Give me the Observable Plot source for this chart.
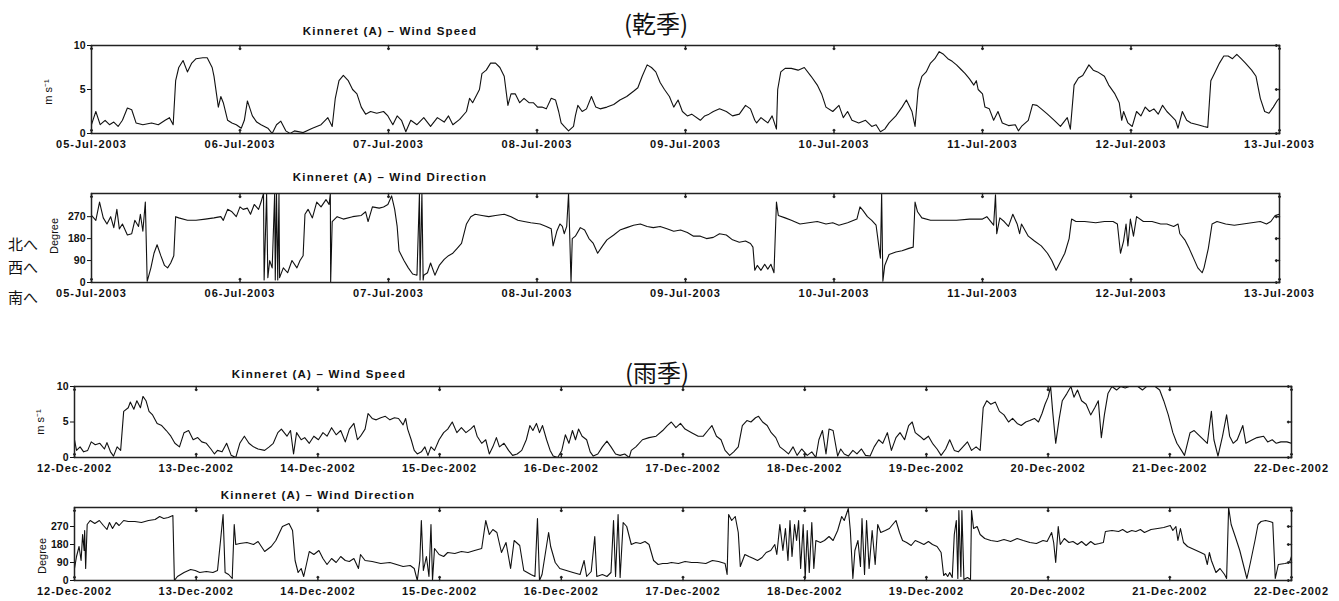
<!DOCTYPE html>
<html><head><meta charset="utf-8">
<script src="https://cdn.jsdelivr.net/npm/d3@7"></script>
<script src="https://cdn.jsdelivr.net/npm/@observablehq/plot@0.6"></script>
<style>
body{margin:0;background:#fff;}
#wrap{position:relative;width:1339px;height:601px;overflow:hidden;background:#fff;font-family:"Liberation Sans",Arial,sans-serif;color:#111;}
.abs{position:absolute;white-space:nowrap;line-height:1;}
.ttl{font-weight:bold;font-size:11.5px;letter-spacing:1.2px;transform:translate(-50%,-50%);}
.season{font-family:"Noto Sans CJK JP";font-size:24px;transform:translate(-50%,-50%);}
.ylab{font-size:11px;transform:translate(-50%,-50%) rotate(-90deg);}
.jp{font-family:"Noto Sans CJK JP";font-size:15px;transform:translateY(-50%);}
</style></head><body><div id="wrap"></div>
<script>
// ---------- data: [hours since start, value] ----------
const julStart = "2003-07-05T00:00:00Z";
const decStart = "2002-12-12T00:00:00Z";
const speedTicks = [0, 5, 10];
const dirTicks = [0, 90, 180, 270];

const julSpeed = [[0,1.0],[0.7,2.5],[1.4,1.0],[2.2,1.5],[2.9,1.0],[3.6,1.3],[4.3,0.8],[5.0,1.5],[5.8,2.9],[6.5,2.7],[7.2,1.2],[8.3,1.0],[9.7,1.2],[10.8,1.0],[11.9,1.5],[12.6,1.8],[13.2,1.0],[13.6,6.0],[14.1,7.5],[14.8,8.3],[15.5,7.0],[16.2,8.0],[16.9,8.5],[18.0,8.6],[18.7,8.6],[19.5,7.5],[19.8,6.5],[20.5,3.0],[20.9,4.2],[21.3,3.5],[22.0,1.5],[22.7,1.2],[23.4,1.0],[24.2,0.6],[24.7,1.5],[25.2,3.7],[26.0,2.0],[26.7,1.3],[27.4,1.0],[28.5,0.6],[29.2,0.0],[29.9,1.0],[30.6,1.4],[31.4,0.3],[32.1,0.0],[32.8,0.3],[34.2,0.1],[35.7,0.6],[37.1,1.0],[38.2,1.8],[38.9,0.8],[39.4,4.0],[40.0,6.0],[40.7,6.6],[41.5,6.0],[42.2,5.0],[42.9,4.5],[43.6,3.0],[44.3,2.2],[45.1,2.5],[46.1,2.3],[47.2,2.5],[47.9,2.0],[48.7,1.0],[49.4,2.0],[50.1,1.5],[50.8,0.2],[51.6,1.5],[52.6,1.0],[53.7,1.8],[54.8,0.8],[55.9,1.8],[57.0,1.3],[57.7,2.0],[58.4,1.0],[59.5,1.6],[60.6,2.5],[61.1,4.0],[61.6,3.5],[62.7,5.0],[63.1,6.8],[63.8,7.2],[64.5,8.0],[65.3,8.0],[66.0,7.5],[66.7,6.5],[67.3,3.2],[67.8,4.5],[68.5,4.5],[69.2,3.5],[69.9,4.0],[70.7,3.5],[71.4,3.5],[72.1,3.0],[72.8,3.0],[73.5,2.8],[74.3,4.0],[75.0,3.8],[75.5,2.5],[75.9,1.2],[76.4,0.8],[77.1,0.3],[77.9,0.8],[78.2,2.0],[78.6,3.2],[79.3,2.5],[80.0,2.8],[80.8,4.2],[81.5,3.0],[82.2,2.8],[83.3,3.0],[84.4,3.3],[85.4,3.8],[86.5,4.2],[87.6,4.8],[88.3,5.2],[89.0,6.5],[89.8,7.8],[90.5,7.5],[91.2,7.0],[91.9,5.8],[92.6,5.0],[93.4,4.2],[94.1,3.0],[94.8,3.8],[95.5,2.5],[96.3,2.0],[97.0,2.2],[98.4,1.5],[99.1,2.0],[99.8,2.2],[100.5,2.5],[101.5,2.8],[102.6,2.5],[103.6,2.0],[104.7,2.2],[105.7,3.2],[106.5,2.8],[107.2,1.5],[107.5,1.2],[108.2,1.8],[109.3,1.2],[110.0,2.0],[110.7,0.5],[110.9,5.0],[111.4,7.0],[112.1,7.4],[113.1,7.4],[114.2,7.2],[115.2,7.5],[116.3,6.5],[117.3,5.5],[118.0,4.5],[118.7,3.0],[119.8,2.5],[120.8,3.2],[121.5,1.8],[122.2,2.5],[122.9,1.5],[124.0,1.2],[125.1,1.5],[126.1,0.8],[126.8,1.0],[127.5,0.2],[128.2,0.5],[128.9,1.2],[130.0,2.0],[131.0,3.0],[131.7,3.8],[132.6,2.5],[133.1,0.8],[133.6,5.0],[134.2,6.5],[134.9,7.0],[135.6,8.0],[136.3,8.5],[137.0,9.3],[137.7,9.0],[138.4,8.5],[139.1,8.2],[139.8,7.8],[140.5,7.3],[141.2,6.8],[141.9,6.2],[142.6,5.5],[143.0,6.0],[143.3,5.0],[144.0,4.5],[144.4,3.0],[145.1,2.8],[145.8,1.5],[146.5,2.5],[147.2,1.2],[148.2,0.9],[149.3,1.0],[149.8,0.3],[150.3,0.8],[151.4,1.5],[152.1,3.3],[152.8,3.2],[153.5,2.8],[154.5,2.2],[155.6,1.5],[156.6,0.8],[157.7,1.8],[158.2,0.5],[158.8,5.5],[159.5,6.3],[160.2,6.6],[161.2,7.8],[161.9,7.2],[162.6,7.0],[163.7,6.5],[164.4,5.5],[165.4,4.5],[166.1,3.5],[166.5,1.5],[166.8,2.5],[167.5,1.2],[168.2,0.8],[168.9,2.5],[169.6,2.0],[170.3,3.0],[171.0,2.5],[171.7,2.8],[172.4,2.2],[173.1,3.2],[173.8,2.5],[174.5,2.0],[175.2,1.5],[175.6,0.6],[176.3,2.5],[177.0,1.5],[177.7,1.2],[178.8,1.0],[179.8,0.8],[180.4,0.7],[180.9,6.0],[181.6,7.0],[182.3,8.0],[183.0,8.8],[183.7,8.8],[184.4,8.5],[185.1,9.0],[185.8,8.5],[186.5,8.0],[187.5,7.2],[188.2,6.5],[188.9,4.0],[189.6,2.5],[190.3,2.3],[191.0,3.0],[191.7,3.8],[192.0,4.0]];

const julDir = [[0,275],[0.7,255],[1.3,330],[1.9,265],[2.5,240],[3.1,270],[3.6,225],[4.1,300],[4.5,220],[5.0,240],[5.8,195],[6.5,200],[7.0,255],[7.6,230],[7.9,280],[8.3,210],[8.7,330],[9.0,5],[9.6,60],[10.1,120],[10.6,155],[11.2,110],[11.8,70],[12.3,60],[12.8,80],[13.3,110],[13.6,270],[14.1,265],[15.5,255],[16.9,255],[18.4,260],[19.8,265],[20.9,270],[21.3,255],[22.0,300],[22.7,290],[23.4,270],[24.0,310],[24.5,300],[25.2,305],[25.7,280],[26.3,320],[27.0,300],[27.4,330],[27.8,365],[27.9,10],[28.3,365],[28.5,20],[28.8,90],[29.2,60],[29.6,365],[29.7,10],[29.9,365],[30.1,10],[30.3,365],[30.4,20],[31.0,60],[31.7,40],[32.4,90],[33.2,60],[33.7,90],[34.2,110],[34.5,280],[35.0,300],[35.7,265],[36.4,330],[37.1,310],[37.9,340],[38.4,320],[38.6,365],[38.65,0],[38.9,250],[39.7,270],[40.7,260],[42.2,270],[43.6,275],[44.3,290],[44.7,250],[45.4,310],[46.5,305],[47.2,310],[47.9,320],[48.5,355],[49.0,300],[49.4,230],[49.7,130],[50.5,90],[51.2,60],[51.9,35],[52.6,30],[53.0,365],[53.1,10],[53.4,365],[53.6,10],[53.7,30],[54.3,40],[54.8,80],[55.5,30],[56.2,70],[57.0,95],[57.7,110],[58.4,120],[59.1,140],[59.8,160],[60.6,240],[61.3,270],[62.0,280],[63.1,275],[64.2,270],[65.3,275],[66.7,280],[67.8,270],[68.9,255],[69.9,250],[71.0,245],[72.5,240],[73.5,230],[74.3,220],[74.6,150],[75.2,210],[75.7,240],[76.1,230],[76.4,200],[76.8,230],[77.1,365],[77.5,0],[77.7,180],[78.2,190],[79.0,225],[79.7,215],[80.4,180],[81.1,160],[81.8,120],[82.6,150],[83.3,175],[84.4,195],[85.4,215],[86.5,225],[87.6,235],[88.7,240],[89.8,230],[90.8,225],[91.9,230],[93.0,220],[94.1,210],[95.2,215],[96.3,205],[97.3,190],[98.4,190],[99.4,180],[100.5,185],[101.5,200],[102.6,195],[103.6,175],[104.7,165],[105.7,170],[106.5,160],[106.9,145],[107.2,50],[107.6,70],[108.2,50],[108.8,75],[109.3,55],[109.8,75],[110.3,40],[110.7,330],[111.0,275],[112.1,265],[113.1,255],[114.5,240],[115.9,245],[117.3,250],[118.7,240],[119.8,245],[120.8,235],[122.2,245],[123.7,260],[124.2,310],[124.7,295],[125.4,270],[126.1,255],[126.8,235],[127.5,100],[127.7,365],[127.9,5],[128.2,70],[128.9,115],[130.0,125],[131.0,130],[132.1,140],[132.8,145],[133.1,330],[133.5,290],[134.2,265],[135.6,255],[137.7,255],[139.8,255],[141.9,260],[144.0,260],[144.7,270],[145.8,235],[146.1,360],[146.3,200],[146.8,265],[147.5,250],[148.2,230],[148.9,280],[149.6,240],[150.0,200],[150.3,240],[151.4,190],[152.4,170],[153.5,150],[154.5,120],[155.2,90],[155.9,50],[156.5,80],[157.3,120],[158.0,180],[158.4,260],[159.1,250],[160.5,250],[162.3,245],[163.7,250],[165.1,250],[165.8,240],[166.3,120],[166.8,170],[167.2,240],[167.5,150],[167.9,260],[168.4,190],[168.9,270],[170.0,250],[171.4,250],[172.8,240],[173.8,240],[174.9,230],[175.6,240],[175.9,200],[176.7,175],[177.4,140],[178.1,100],[178.8,60],[179.5,40],[179.8,60],[180.5,140],[181.1,240],[181.9,250],[183.3,240],[184.7,235],[186.1,240],[187.5,245],[188.9,250],[189.9,240],[190.6,250],[191.3,275],[192.0,280]];

const decSpeed = [[0,2.5],[0.4,1.0],[1.1,1.5],[1.8,0.8],[2.6,1.0],[3.3,2.2],[4.1,1.8],[5.0,2.0],[5.9,1.2],[6.4,2.1],[7.1,0.8],[7.7,0.2],[8.4,1.5],[9.1,1.0],[9.7,6.5],[10.6,7.0],[11.0,7.8],[11.7,6.8],[12.3,8.0],[13.0,7.0],[13.5,8.6],[14.1,8.0],[14.7,6.5],[15.4,6.0],[16.3,4.8],[17.2,4.5],[18.1,3.8],[19.0,3.0],[19.8,2.0],[20.7,1.5],[21.6,3.5],[22.5,3.8],[23.4,2.5],[24.3,2.8],[25.1,2.2],[26.0,2.0],[26.9,1.2],[27.6,0.5],[28.2,1.0],[29.1,0.8],[30.0,2.0],[30.9,0.3],[31.8,0.0],[32.6,2.0],[33.5,3.0],[34.4,2.0],[35.3,1.5],[36.2,1.2],[37.5,1.0],[38.4,1.5],[39.2,2.0],[40.1,3.5],[40.8,4.0],[41.9,3.0],[42.6,3.8],[43.2,0.5],[43.8,3.5],[44.7,2.5],[45.4,2.8],[46.3,2.0],[47.2,3.0],[48.1,2.5],[49.0,3.5],[49.8,3.0],[50.7,4.2],[51.6,3.2],[52.5,3.8],[53.4,2.2],[54.2,4.0],[55.1,4.8],[55.8,2.5],[56.4,3.0],[57.3,4.0],[57.9,6.2],[58.7,5.5],[59.5,5.3],[60.4,5.6],[61.3,5.8],[62.2,5.3],[63.1,5.6],[63.9,5.5],[64.8,4.6],[65.3,5.5],[65.7,4.0],[66.4,2.5],[67.0,1.0],[67.6,0.5],[68.4,0.8],[69.1,1.5],[69.7,0.3],[70.3,1.5],[71.0,1.0],[71.9,2.5],[72.8,3.5],[73.6,4.0],[74.5,5.0],[75.4,3.5],[76.3,4.2],[77.2,3.5],[78.1,4.0],[78.8,4.5],[79.4,3.0],[80.3,2.0],[81.1,2.5],[81.8,0.5],[82.5,1.5],[83.2,2.8],[83.8,1.5],[84.7,2.0],[85.6,1.0],[86.4,0.3],[87.3,0.5],[88.2,1.0],[89.1,2.5],[89.8,4.5],[90.4,3.8],[91.1,4.8],[91.7,3.5],[92.3,4.5],[93.1,2.5],[93.8,1.0],[94.4,0.2],[95.3,0.0],[96.1,1.0],[96.8,3.2],[97.5,2.0],[98.2,3.8],[98.8,2.5],[99.4,4.0],[100.1,3.0],[101.0,2.5],[101.7,0.8],[102.3,0.2],[103.2,0.5],[104.1,1.5],[105.0,2.3],[105.8,1.5],[106.7,0.5],[107.6,0.3],[108.5,0.5],[109.4,0.0],[109.8,1.0],[110.7,1.5],[112.0,2.5],[113.3,2.8],[114.7,3.0],[116.0,3.8],[116.9,4.5],[117.7,5.0],[118.6,4.2],[119.5,4.8],[120.4,4.0],[121.7,3.5],[123.0,3.0],[124.0,3.0],[124.9,3.8],[125.7,4.5],[126.6,3.0],[127.5,2.5],[128.3,1.0],[129.2,0.3],[130.0,0.8],[130.9,1.5],[131.7,4.5],[132.6,5.2],[133.4,5.0],[134.3,5.6],[134.9,5.8],[135.7,5.0],[136.6,4.5],[137.4,3.5],[138.3,2.8],[139.1,1.5],[140.0,1.0],[140.8,0.5],[141.7,1.5],[142.5,0.3],[143.4,1.2],[144.5,0.3],[145.4,0.8],[146.2,0.0],[146.8,2.5],[147.5,3.8],[148.2,0.5],[148.8,4.0],[149.6,3.8],[150.5,0.2],[151.1,1.2],[151.8,0.5],[152.6,0.2],[153.5,1.0],[154.3,0.5],[155.2,1.2],[156.0,0.3],[156.9,0.2],[157.7,1.5],[158.6,2.5],[159.4,2.0],[160.3,3.5],[161.1,1.0],[162.0,2.8],[162.8,3.5],[163.7,2.5],[164.5,4.5],[165.2,5.0],[165.8,3.5],[166.7,3.0],[167.5,2.5],[168.4,3.0],[169.2,2.0],[170.1,1.2],[170.9,0.3],[171.8,1.2],[172.6,2.5],[173.5,1.0],[174.3,0.8],[175.2,1.5],[176.1,2.2],[176.9,1.0],[177.8,1.5],[178.6,1.0],[179.2,7.0],[179.9,8.0],[180.7,7.5],[181.6,7.8],[182.4,6.5],[183.3,6.0],[184.2,5.0],[185.0,5.5],[185.9,4.8],[186.7,4.5],[187.6,5.0],[188.4,5.2],[189.3,5.5],[190.1,5.0],[190.8,6.2],[191.4,7.5],[192.0,8.5],[192.5,10],[192.9,6.5],[193.5,2.0],[194.2,5.5],[194.8,8.0],[195.7,9.0],[196.5,10],[197.1,8.5],[197.8,9.5],[198.6,8.0],[199.5,7.5],[200.4,6.0],[201.2,7.0],[201.9,8.0],[202.5,2.8],[203.1,6.0],[203.8,9.0],[204.6,10],[205.5,9.5],[206.3,10],[207.2,9.8],[208.0,10],[208.9,10],[209.7,10],[210.6,9.5],[211.4,10],[212.3,10],[213.1,10],[214.0,9.5],[214.8,8.0],[215.7,6.0],[216.6,3.5],[217.4,2.0],[218.3,1.0],[218.9,0.3],[220.0,3.5],[220.8,3.8],[223.4,2.0],[224.2,6.5],[224.7,2.5],[225.5,0.2],[226.4,3.0],[227.2,6.0],[227.8,3.0],[228.5,2.0],[229.3,2.5],[230.4,4.5],[231.0,2.0],[232.3,2.5],[233.2,2.8],[234.5,3.0],[235.3,2.2],[236.2,2.5],[237.0,2.0],[237.9,2.2],[239.1,2.2],[240,2.0]];

const decDir = [[0,60],[0.4,120],[0.9,170],[1.3,100],[1.6,230],[1.9,150],[2.0,250],[2.2,60],[2.5,280],[3.1,300],[4.0,285],[4.9,300],[5.7,275],[6.4,255],[6.9,290],[7.5,260],[8.2,290],[8.8,275],[9.7,300],[10.6,295],[11.9,295],[13.2,290],[14.6,300],[15.9,305],[16.8,320],[17.6,310],[18.5,315],[19.4,325],[19.7,0],[20.3,20],[21.6,40],[22.9,55],[23.8,50],[24.7,40],[26.0,45],[27.3,40],[28.2,50],[28.8,200],[29.3,330],[29.7,40],[30.4,30],[31.1,10],[31.5,280],[31.8,180],[32.6,185],[34.0,190],[35.3,180],[36.2,195],[37.5,145],[38.8,170],[39.7,200],[41.0,270],[42.3,285],[43.0,250],[43.5,100],[44.1,40],[44.7,60],[45.2,20],[46.3,145],[47.2,130],[48.2,150],[49.0,110],[49.8,80],[50.7,110],[51.6,90],[52.5,120],[53.4,100],[54.2,95],[55.1,110],[56.0,60],[56.4,130],[57.3,100],[58.7,95],[60.4,85],[62.2,90],[63.5,80],[64.8,70],[66.2,75],[67.0,60],[67.6,0],[68.1,100],[68.4,300],[68.8,50],[69.4,120],[69.9,20],[70.3,280],[70.6,0],[71.0,160],[71.9,130],[72.8,120],[73.6,140],[75.0,135],[76.3,145],[77.6,140],[78.9,150],[80.3,160],[81.1,300],[81.8,230],[82.5,255],[83.3,240],[84.2,140],[85.1,190],[86.0,60],[86.7,200],[87.8,175],[88.6,50],[90.0,30],[90.8,20],[91.3,310],[91.7,0],[92.2,30],[93.5,240],[93.9,170],[94.8,90],[95.7,60],[97.0,50],[98.3,40],[99.7,30],[100.5,100],[101.0,20],[101.9,45],[102.6,220],[103.0,20],[104.1,30],[105.0,20],[105.8,40],[106.3,300],[106.7,20],[107.2,330],[107.6,15],[108.2,290],[108.9,270],[109.8,180],[110.7,190],[111.6,185],[112.5,195],[113.3,180],[114.2,100],[115.1,80],[116.0,85],[116.9,85],[117.7,90],[119.1,85],[120.4,95],[121.7,90],[122.8,90],[124.5,85],[125.8,100],[127.0,95],[128.3,85],[128.7,30],[129.0,330],[129.6,300],[130.3,320],[130.9,240],[131.3,70],[132.2,130],[133.0,120],[133.9,110],[134.7,100],[135.6,115],[136.4,140],[137.3,150],[138.1,180],[138.5,130],[139.1,280],[139.7,150],[140.2,260],[140.7,100],[141.1,300],[141.5,120],[142.0,280],[142.4,200],[142.8,300],[143.2,60],[143.7,280],[144.1,10],[144.5,250],[144.9,40],[145.4,290],[145.8,60],[146.2,200],[147.1,190],[147.9,200],[148.8,220],[149.6,200],[150.5,250],[151.3,320],[151.8,300],[152.6,360],[153.0,250],[153.5,10],[153.9,150],[154.5,200],[155.0,70],[155.3,310],[155.8,30],[156.2,300],[156.7,60],[157.3,250],[157.9,80],[158.4,280],[159.0,240],[159.9,250],[160.7,260],[162.0,300],[162.7,240],[163.3,200],[164.1,190],[165.0,175],[165.8,200],[166.7,190],[167.5,180],[168.4,195],[169.2,180],[170.1,170],[170.9,140],[171.4,25],[171.8,35],[172.2,20],[172.6,40],[173.1,15],[173.5,230],[173.9,300],[174.2,10],[174.4,350],[174.8,20],[175.0,350],[175.4,5],[176.1,15],[176.7,5],[176.9,350],[177.3,260],[178.0,270],[178.6,230],[179.5,210],[180.7,200],[182.0,195],[183.3,205],[184.6,195],[185.9,210],[187.1,200],[188.4,190],[189.7,185],[191.0,200],[191.8,195],[192.7,240],[193.1,190],[193.5,90],[194.0,270],[194.4,180],[195.2,210],[196.1,190],[196.9,195],[197.8,180],[198.6,195],[199.5,175],[200.4,195],[201.2,180],[202.1,185],[202.9,190],[203.3,245],[204.6,250],[205.9,245],[206.7,255],[207.6,240],[208.5,250],[209.3,245],[210.2,255],[211.0,240],[212.3,255],[213.6,260],[214.8,265],[216.1,275],[216.6,250],[217.2,270],[217.6,200],[218.1,260],[218.7,190],[219.5,170],[220.8,155],[222.1,140],[222.9,130],[223.4,80],[223.8,140],[224.2,100],[225.1,40],[225.9,60],[226.8,30],[227.2,10],[227.6,365],[228.1,280],[228.9,220],[229.8,150],[230.6,70],[231.2,10],[231.9,90],[232.8,200],[233.4,280],[234.0,295],[234.9,300],[235.7,295],[236.3,290],[236.8,10],[237.4,80],[238.7,85],[239.6,90],[240,120]];

// ---------- layout ----------
const wrap = document.getElementById("wrap");
const fmt = d3.utcFormat("%d-%b-%Y");
const FONT = '"Liberation Sans", Arial, sans-serif';

function panel({data, start, days, yDomain, yTicks, left, right, top, bottom}) {
  const t0 = new Date(start);
  const pts = data.map(([h, v]) => ({t: new Date(+t0 + h * 3600e3), v}));
  const dayTicks = d3.range(days + 1).map(d => new Date(+t0 + d * 864e5));
  const mt = 6, mb = 26;
  const svg = Plot.plot({
    width: 1339, height: (bottom - top) + mt + mb,
    marginLeft: left, marginRight: 1339 - right, marginTop: mt, marginBottom: mb,
    x: {type: "utc", domain: [t0, dayTicks[days]]},
    y: {domain: yDomain},
    style: {fontFamily: FONT, color: "#111", background: "transparent", overflow: "visible"},
    marks: [
      Plot.line(pts, {x: "t", y: "v", stroke: "#111", strokeWidth: 1.1, clip: true}),
      Plot.frame({stroke: "#222", strokeWidth: 1.5}),
      Plot.axisX({ticks: dayTicks, tickSize: 0, tickPadding: 7, tickFormat: fmt, label: null, fontSize: 11, fontWeight: "bold"}),
      Plot.axisY({ticks: yTicks, tickSize: 4, tickPadding: 2, label: null, fontSize: 10.5, fontWeight: "bold"}),
      Plot.vector(dayTicks, {x: d => d, frameAnchor: "bottom", length: 4, rotate: 0, anchor: "start", stroke: "#222"}),
      Plot.vector(dayTicks, {x: d => d, frameAnchor: "top", length: 4, rotate: 180, anchor: "start", stroke: "#222"}),
      Plot.vector(yTicks, {y: d => d, frameAnchor: "right", length: 4, rotate: -90, anchor: "start", stroke: "#222"})
    ]
  });
  svg.style.position = "absolute";
  svg.style.left = "0px";
  svg.style.top = (top - mt) + "px";
  svg.querySelectorAll('[aria-label="x-axis tick label"] text').forEach(t => t.setAttribute("letter-spacing", "1"));
  wrap.appendChild(svg);
}

function label(text, cls, x, y) {
  const d = document.createElement("div");
  d.className = "abs " + cls;
  d.style.left = x + "px"; d.style.top = y + "px";
  d.textContent = text;
  wrap.appendChild(d);
}

panel({data: julSpeed, start: julStart, days: 8, yDomain: [0, 10], yTicks: speedTicks, left: 91, right: 1279, top: 45, bottom: 133});
panel({data: julDir, start: julStart, days: 8, yDomain: [0, 365], yTicks: dirTicks, left: 91, right: 1279, top: 193, bottom: 282});
panel({data: decSpeed, start: decStart, days: 10, yDomain: [0, 10], yTicks: speedTicks, left: 74, right: 1291, top: 386, bottom: 457});
panel({data: decDir, start: decStart, days: 10, yDomain: [0, 365], yTicks: dirTicks, left: 74, right: 1291, top: 507, bottom: 580});

label("(乾季)", "season", 656, 23);
label("(雨季)", "season", 657, 372);
label("Kinneret (A) – Wind Speed", "ttl", 390, 32);
label("Kinneret (A) – Wind Direction", "ttl", 390, 178);
label("Kinneret (A) – Wind Speed", "ttl", 319, 375);
label("Kinneret (A) – Wind Direction", "ttl", 318, 496);
label("m s⁻¹", "ylab", 48, 92);
label("Degree", "ylab", 54, 236);
label("m s⁻¹", "ylab", 40, 422);
label("Degree", "ylab", 42, 556);
label("北へ", "jp", 8, 243);
label("西へ", "jp", 8, 266);
label("南へ", "jp", 8, 296);
</script></body></html>
